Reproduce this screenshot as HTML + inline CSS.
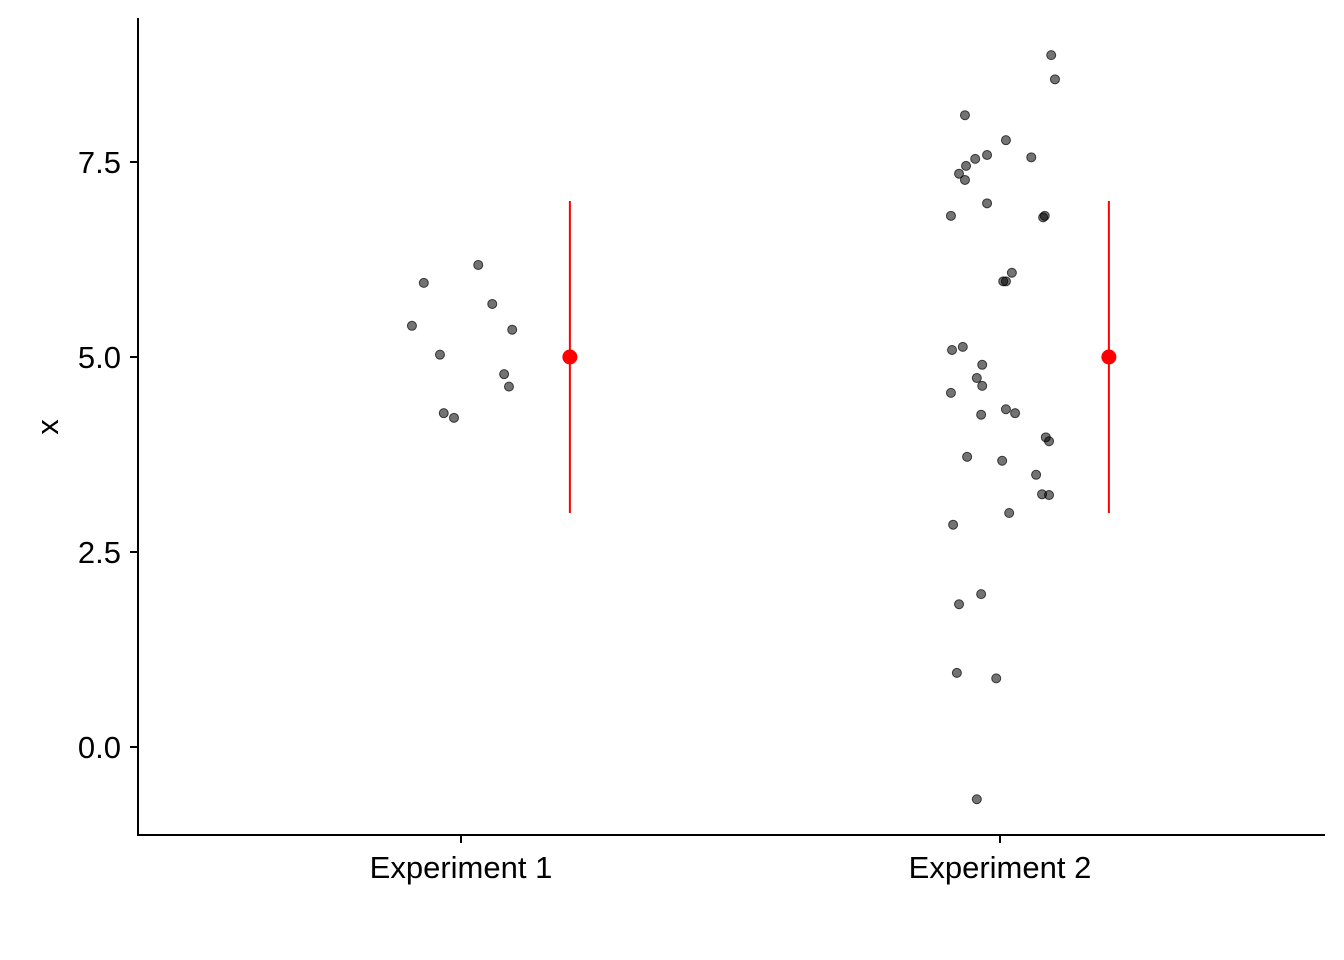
<!DOCTYPE html>
<html><head><meta charset="utf-8"><style>
body{margin:0;background:#fff}
svg{display:block;font-family:"Liberation Sans",Arial,sans-serif}
</style></head><body>
<svg id="chart" width="1344" height="960" xmlns="http://www.w3.org/2000/svg"></svg>
<script>
const categories = ["Experiment 1", "Experiment 2"];
const exp1Values = [5.40,5.95,5.03,4.28,4.22,6.18,5.68,4.78,4.62,5.35];
const exp1Jitter = [-0.091,-0.069,-0.039,-0.032,-0.013,0.032,0.058,0.080,0.089,0.095];
const exp2Values = [8.87,8.56,8.10,7.78,7.59,7.54,7.56,7.45,7.35,7.27,6.97,6.81,6.79,6.81,6.08,5.97,5.97,5.13,5.09,4.90,4.73,4.63,4.54,4.33,4.28,4.26,3.97,3.92,3.72,3.67,3.49,3.24,3.23,3.00,2.85,1.96,1.83,0.95,0.88,-0.67];
const exp2Jitter = [0.095,0.102,-0.065,0.011,-0.024,-0.046,0.058,-0.063,-0.076,-0.065,-0.024,-0.091,0.080,0.083,0.022,0.006,0.011,-0.069,-0.089,-0.033,-0.043,-0.033,-0.091,0.011,0.028,-0.035,0.085,0.091,-0.061,0.004,0.067,0.078,0.091,0.017,-0.087,-0.035,-0.076,-0.080,-0.007,-0.043];
const means = [5, 5];
const lows = [3, 3];
const highs = [7, 7];
const yTicks = [0, 2.5, 5, 7.5];
const yTickLabels = ["0.0", "2.5", "5.0", "7.5"];

const svg = document.getElementById('chart');
const NS = 'http://www.w3.org/2000/svg';
const y = v => 747 - 78 * v;
const x = (i, off) => 461 + 539 * (i + off);
function mk(tag, attrs, parent) {
  const e = document.createElementNS(NS, tag);
  for (const k in attrs) e.setAttribute(k, attrs[k]);
  (parent || svg).appendChild(e);
  return e;
}
let e;
e = mk('line', {x1:138, y1:18, x2:138, y2:835, stroke:'#000', 'stroke-width':2});


e = mk('line', {x1:137, y1:835, x2:1325, y2:835, stroke:'#000', 'stroke-width':2});


yTicks.forEach((t, i) => {
  e = mk('line', {x1:130, y1:y(t), x2:138, y2:y(t), stroke:'#000', 'stroke-width':2});
  
  
  e = mk('text', {x:121, y:y(t) + 11, 'text-anchor':'end', 'font-size':31, fill:'#000'});
  e.textContent = yTickLabels[i];
  
  
});
categories.forEach((c, i) => {
  e = mk('line', {x1:x(i,0), y1:835, x2:x(i,0), y2:843, stroke:'#000', 'stroke-width':2});
  
  
  e = mk('text', {x:x(i,0), y:878, 'text-anchor':'middle', 'font-size':31, fill:'#000'});
  e.textContent = c;
  
  
});
e = mk('text', {x:0, y:0, 'text-anchor':'middle', 'font-size':31, fill:'#000', transform:'translate(58,427) rotate(-90)'});
e.textContent = 'x';



[[exp1Values, exp1Jitter], [exp2Values, exp2Jitter]].forEach((s, i) => {
  s[0].forEach((v, k) => {
    e = mk('circle', {cx:x(i, s[1][k]), cy:y(v), r:4.5, fill:'rgba(0,0,0,0.55)', stroke:'rgba(0,0,0,0.7)', 'stroke-width':1});
    
    
  });
  e = mk('line', {x1:x(i,0.202), y1:y(lows[i]), x2:x(i,0.202), y2:y(highs[i]), stroke:'#ff0000', 'stroke-width':2});
  
  
  e = mk('circle', {cx:x(i,0.202), cy:y(means[i]), r:7.5, fill:'#ff0000'});
  
  
});
</script>
</body></html>
